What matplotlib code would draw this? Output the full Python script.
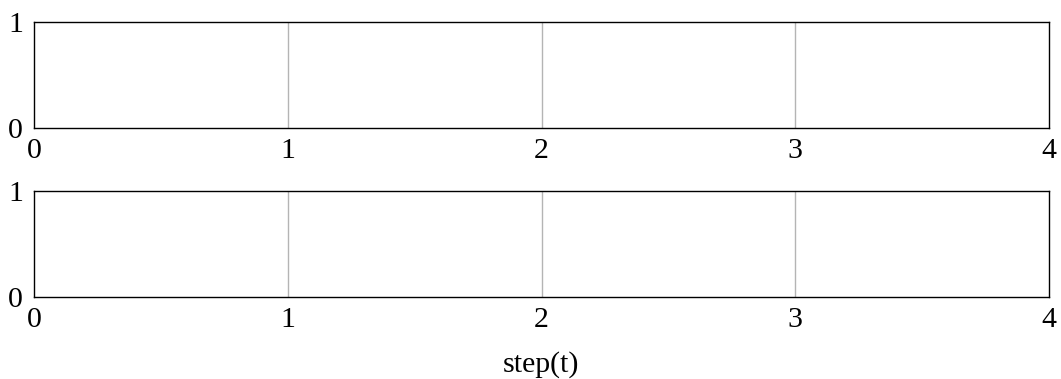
import matplotlib
matplotlib.use("Agg")
import matplotlib.pyplot as plt

plt.rcParams['font.family'] = ['Liberation Serif', 'DejaVu Serif']

x_ticks = [0, 1, 2, 3, 4]
y_ticks = [0, 1]
boundaries = [1, 2, 3]
x_label = "step(t)"

fig = plt.figure(figsize=(10.61, 3.79), dpi=100)
W, H = 1061, 379
left, right = 34, 1049
panels = [(22, 128), (191, 297)]
axes = []
for top, bot in panels:
    ax = fig.add_axes([left / W, (H - bot) / H, (right - left) / W, (bot - top) / H])
    ax.set_xlim(x_ticks[0], x_ticks[-1])
    ax.set_ylim(y_ticks[0], y_ticks[-1])
    ax.set_xticks(x_ticks)
    ax.set_yticks(y_ticks)
    ax.set_xticklabels([str(v) for v in x_ticks])
    ax.set_yticklabels([str(v) for v in y_ticks])
    ax.tick_params(length=0, labelsize=21.5)
    ax.tick_params(axis='x', pad=7.5)
    ax.tick_params(axis='y', pad=8)
    for b in boundaries:
        ax.axvline(b, color='#b4b4b4', lw=1.0, zorder=0)
    for s in ax.spines.values():
        s.set_linewidth(1.0)
        s.set_color('black')
    axes.append(ax)

axes[-1].set_xlabel(x_label, fontsize=21.5, labelpad=13)
fig.savefig("out.png", dpi=100)
